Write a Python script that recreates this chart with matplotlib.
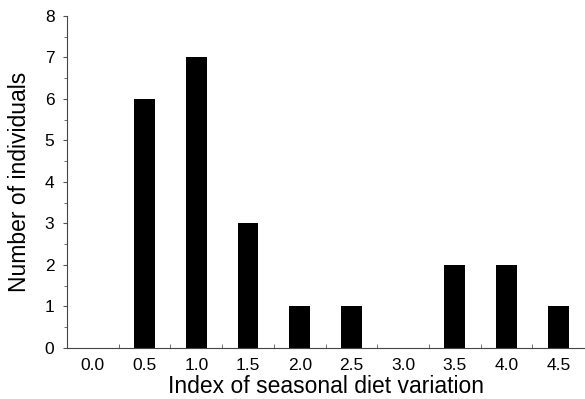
import matplotlib
matplotlib.use("Agg")
import matplotlib.pyplot as plt
import numpy as np
from matplotlib.ticker import FixedLocator, MultipleLocator

categories = ["0.0", "0.5", "1.0", "1.5", "2.0", "2.5", "3.0", "3.5", "4.0", "4.5"]
counts = [0, 6, 7, 3, 1, 1, 0, 2, 2, 1]
yticks = [0, 1, 2, 3, 4, 5, 6, 7, 8]

plt.rcParams['font.family'] = ['Liberation Sans', 'DejaVu Sans']

fig = plt.figure(figsize=(5.85, 3.99), dpi=100)
ax = fig.add_axes([0.1145, 0.128, 0.884, 0.832])

x = np.arange(len(categories))
ax.bar(x, counts, width=0.4, color='black')

ax.set_xlim(-0.5, len(categories) - 0.5)
ax.set_ylim(0, 8)
ax.set_xticks(x)
ax.set_xticklabels(categories, fontsize=12.5)
ax.set_yticks(yticks)
ax.set_yticklabels([str(v) for v in yticks], fontsize=12.5)
ax.yaxis.set_minor_locator(MultipleLocator(0.5))

# x tick marks at category boundaries
ax.tick_params(axis='x', which='major', length=0, pad=7)
ax.xaxis.set_minor_locator(FixedLocator(x[:-1] + 0.5))
ax.tick_params(axis='x', which='minor', direction='in', length=3, color='#555555')
ax.tick_params(axis='y', which='major', direction='out', length=3, color='#555555', pad=6)
ax.tick_params(axis='y', which='minor', direction='out', length=2, color='#555555')

for s in ['top', 'right']:
    ax.spines[s].set_visible(False)
for s in ['left', 'bottom']:
    ax.spines[s].set_color('#444444')
    ax.spines[s].set_linewidth(0.8)

ax.set_xlabel("Index of seasonal diet variation", fontsize=16.5, labelpad=2)
ax.set_ylabel("Number of individuals", fontsize=16.5, labelpad=10)

fig.savefig("out.png", dpi=100)
